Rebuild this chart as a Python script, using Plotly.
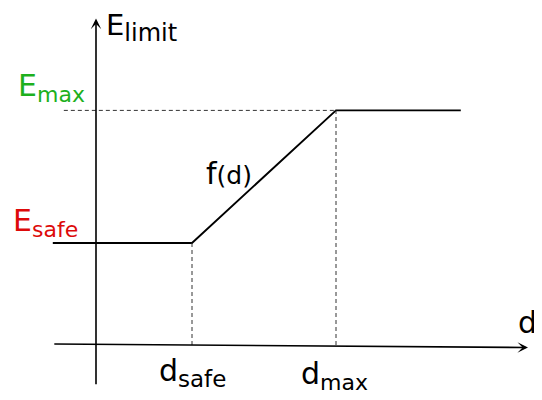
import plotly.graph_objects as go

# --- data (diagram units) ---
d_safe = 2.0
d_max = 5.0
E_safe = 2.0
E_max = 4.6
d_start = -0.9
d_end = 7.6
curve_d = [d_start, d_safe, d_max, d_end]
curve_E = [E_safe, E_safe, E_max, E_max]
dash_start = -0.67

SUB = "<sub><span style='font-size:{}px'>{}</span></sub>"
labels = {"E_limit": "E" + SUB.format(24, "limit"), "E_max": "E" + SUB.format(22, "max"),
          "E_safe": "E" + SUB.format(22, "safe"),
          "f": "f<span style='font-size:25px'>(d)</span>", "d": "d",
          "d_safe": "d" + SUB.format(23, "safe"), "d_max": "d" + SUB.format(22, "max")}

FONT = "DejaVu Sans"
GREEN = "#1db01d"
RED = "#dd0a0a"

fig = go.Figure()
# main curve
fig.add_trace(go.Scatter(x=curve_d, y=curve_E, mode="lines",
                         line=dict(color="black", width=1.9), hoverinfo="skip"))
# dashed guides
dash = dict(color="#333333", width=1, dash="4px,3px")
fig.add_trace(go.Scatter(x=[dash_start, d_max], y=[E_max, E_max], mode="lines", line=dash, hoverinfo="skip"))
fig.add_trace(go.Scatter(x=[d_safe, d_safe], y=[0, E_safe], mode="lines", line=dash, hoverinfo="skip"))
fig.add_trace(go.Scatter(x=[d_max, d_max], y=[0, E_max], mode="lines", line=dash, hoverinfo="skip"))

ann = []
# axes arrows
ann.append(dict(x=0, y=6.4, ax=0, ay=-0.8, xref="x", yref="y", axref="x", ayref="y",
                showarrow=True, arrowhead=3, arrowsize=1.1, arrowwidth=1.6, arrowcolor="black", text=""))
ann.append(dict(x=9.0, y=-0.05, ax=d_start, ay=0.02, xref="x", yref="y", axref="x", ayref="y",
                showarrow=True, arrowhead=3, arrowsize=1.1, arrowwidth=1.6, arrowcolor="black", text=""))

def label(text, x, y, color="black", size=30, xanchor="center", yanchor="middle", xshift=0, yshift=0, pad=1):
    ann.append(dict(text=text, x=x, y=y, xref="x", yref="y", showarrow=False,
                    xanchor=xanchor, yanchor=yanchor, xshift=xshift, yshift=yshift, borderpad=pad,
                    font=dict(family=FONT, size=size, color=color)))

label(labels["E_limit"], 0, 6.22, size=29, xanchor="left", xshift=9, pad=0)
label(labels["E_max"], 0, E_max, color=GREEN, xanchor="right", xshift=-9, yshift=23)
label(labels["E_safe"], 0, E_safe, color=RED, xanchor="right", xshift=-16, yshift=21)
label(labels["f"], 2.77, 3.37)
label(labels["d"], 8.98, 0.45)
label(labels["d_safe"], d_safe, 0, yshift=-27)
label(labels["d_max"], d_max, 0, yshift=-30, xshift=-2)

# page body has an 8px margin; the figure is sized/ranged so diagram lands in place
fig.update_layout(
    width=534, height=392, margin=dict(l=0, r=0, t=0, b=0),
    paper_bgcolor="white", plot_bgcolor="white", showlegend=False,
    xaxis=dict(range=[-1.8333, 9.2917], visible=False, fixedrange=True),
    yaxis=dict(range=[-1.0784, 6.6078], visible=False, fixedrange=True),
    annotations=ann,
)
fig.write_html("out.html")
